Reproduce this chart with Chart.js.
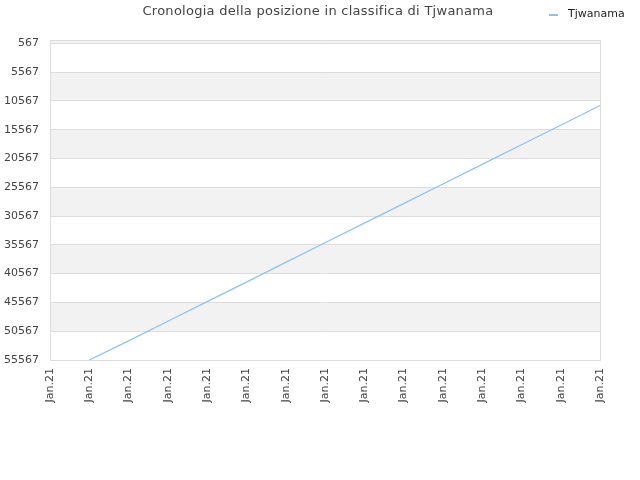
<!DOCTYPE html>
<html>
<head>
<meta charset="utf-8">
<script src="https://cdn.jsdelivr.net/npm/chart.js@4/dist/chart.umd.min.js"></script>
<style>
  html, body { margin: 0; padding: 0; background: #fff; }
  #wrap { width: 640px; height: 480px; }
</style>
</head>
<body>
<div id="wrap"><canvas id="grafico"></canvas></div>
<script>
const titulo = "Cronologia della posizione in classifica di Tjwanama";
const serieNombre = "Tjwanama";
const etiquetas = ["Jan.21", "Jan.21", "Jan.21", "Jan.21", "Jan.21", "Jan.21", "Jan.21", "Jan.21",
  "Jan.21", "Jan.21", "Jan.21", "Jan.21", "Jan.21", "Jan.21", "Jan.21"];
const posiciones = [null, 55567, 52240, 48840, 45430, 42040, 38620, 35210,
  31800, 28410, 25000, 21600, 18190, 14800, 11380];
const ticksY = [567, 5567, 10567, 15567, 20567, 25567, 30567, 35567, 40567, 45567, 50567, 55567];

const COLOR_LINEA = "#8fc2f2";
const FUENTE = "'DejaVu Sans', sans-serif";

// franjas alternadas de fondo
const pluginFranjas = {
  id: "franjas",
  beforeDraw: function (chart) {
    let ctx = chart.ctx;
    let area = chart.chartArea;
    let y = chart.scales.y;
    ctx.save();
    ctx.fillStyle = "#f2f2f2";
    let tope = y.getPixelForValue(0);
    ctx.fillRect(area.left, tope, area.right - area.left, y.getPixelForValue(ticksY[0]) - tope);
    for (let k = 0; k < ticksY.length - 1; k++) {
      if (k % 2 === 1) {
        let a = y.getPixelForValue(ticksY[k]);
        let b = y.getPixelForValue(ticksY[k + 1]);
        ctx.fillRect(area.left, a, area.right - area.left, b - a);
      }
    }
    ctx.strokeStyle = "#dddddd";
    ctx.lineWidth = 1;
    ctx.beginPath();
    ctx.moveTo(area.left, Math.round(area.top) + 0.5);
    ctx.lineTo(area.right, Math.round(area.top) + 0.5);
    ctx.stroke();
    ctx.restore();
  },
};

// titulo centrado en el lienzo y leyenda arriba a la derecha, en la misma fila
const pluginCabecera = {
  id: "cabecera",
  afterDraw: function (chart) {
    let ctx = chart.ctx;
    let ds = chart.data.datasets[0];
    ctx.save();
    ctx.fillStyle = "#444";
    ctx.font = "13px " + FUENTE;
    ctx.textAlign = "center";
    ctx.textBaseline = "middle";
    if ("letterSpacing" in ctx) ctx.letterSpacing = "0.27px";
    ctx.fillText(titulo, 318, 11.5);
    if ("letterSpacing" in ctx) ctx.letterSpacing = "0px";

    ctx.strokeStyle = ds.borderColor;
    ctx.lineWidth = 2;
    ctx.beginPath();
    ctx.moveTo(549, 15);
    ctx.lineTo(558, 15);
    ctx.stroke();
    ctx.fillStyle = "#222";
    ctx.font = "11px " + FUENTE;
    ctx.textAlign = "left";
    ctx.fillText(ds.label, 568, 14.5);
    ctx.restore();
  },
};

new Chart(document.getElementById("grafico"), {
  type: "line",
  data: {
    labels: etiquetas,
    datasets: [
      {
        label: serieNombre,
        data: posiciones,
        borderColor: COLOR_LINEA,
        backgroundColor: COLOR_LINEA,
        borderWidth: 1.3,
        pointRadius: 0,
        tension: 0,
        fill: false,
      },
    ],
  },
  options: {
    responsive: true,
    maintainAspectRatio: false,
    animation: false,
    layout: { padding: { left: 0, right: 40, top: 40, bottom: 0 } },
    plugins: {
      legend: { display: false },
      tooltip: { enabled: false },
      title: { display: false },
    },
    scales: {
      x: {
        offset: false,
        grid: {
          drawTicks: false,
          color: function (c) {
            return c.index === etiquetas.length - 1 ? "#dddddd" : "rgba(0,0,0,0)";
          },
        },
        border: { display: true, color: "#dddddd" },
        ticks: {
          autoSkip: false,
          minRotation: 90,
          maxRotation: 90,
          padding: 8,
          color: "#444",
          font: { family: FUENTE, size: 11 },
        },
        afterFit: function (scale) {
          scale.height = 120;
        },
      },
      y: {
        reverse: true,
        min: 0,
        max: 55567,
        afterBuildTicks: function (scale) {
          scale.ticks = ticksY.map(function (v) {
            return { value: v };
          });
        },
        grid: { drawTicks: false, color: "#dddddd" },
        border: { display: true, color: "#dddddd" },
        ticks: {
          padding: 11,
          color: "#444",
          font: { family: FUENTE, size: 11 },
          callback: function (v) {
            return String(v);
          },
        },
        afterFit: function (scale) {
          scale.width = 50;
        },
      },
    },
  },
  plugins: [pluginFranjas, pluginCabecera],
});
</script>
</body>
</html>
